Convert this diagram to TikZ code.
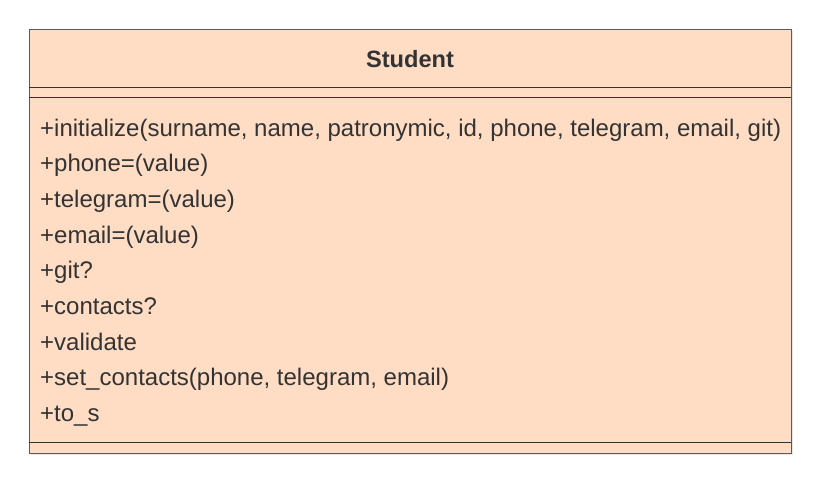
\documentclass[tikz,border=0pt]{standalone}
\usepackage{fontspec}
\setmainfont{Liberation Sans}
\usetikzlibrary{shadows}
\definecolor{classfill}{HTML}{FFDCC4}
\definecolor{classdraw}{HTML}{5A5A5A}
\definecolor{classtext}{HTML}{333333}

\begin{document}
\begin{tikzpicture}[x=1pt,y=-1pt,
  class box/.style={draw=classdraw,fill=classfill,line width=1pt,drop shadow={shadow xshift=1.5pt,shadow yshift=-1.5pt,opacity=0.2}},
  class line/.style={draw=classtext,line width=1pt},
  title node/.style={anchor=base,font=\fontsize{23.6}{28}\selectfont\bfseries,text=classtext,inner sep=0pt},
  method node/.style={anchor=base west,font=\fontsize{24}{28}\selectfont,text=classtext,inner sep=0pt}]
  \useasboundingbox (0,0) rectangle (819,482);
  \path[class box] (29,29) rectangle (791,453);
  \coordinate (tl) at (29,87);
  \coordinate (tr) at (791,87);
  \coordinate (al) at (29,97);
  \coordinate (ar) at (791,97);
  \coordinate (ml) at (29,442);
  \coordinate (mr) at (791,442);
  \draw[class line] (tl) -- (tr);
  \draw[class line] (al) -- (ar);
  \draw[class line] (ml) -- (mr);
  \node[title node] (student) at (410,67) {Student};
  \foreach \txt [count=\i from 0] in {%
      {+initialize(surname, name, patronymic, id, phone, telegram, email, git)},
      {+phone=(value)},
      {+telegram=(value)},
      {+email=(value)},
      {+git?},
      {+contacts?},
      {+validate},
      {+set\_contacts(phone, telegram, email)},
      {+to\_s}}
    \node[method node] (m\i) at (40,136+35.7*\i) {\txt};
\end{tikzpicture}
\end{document}
